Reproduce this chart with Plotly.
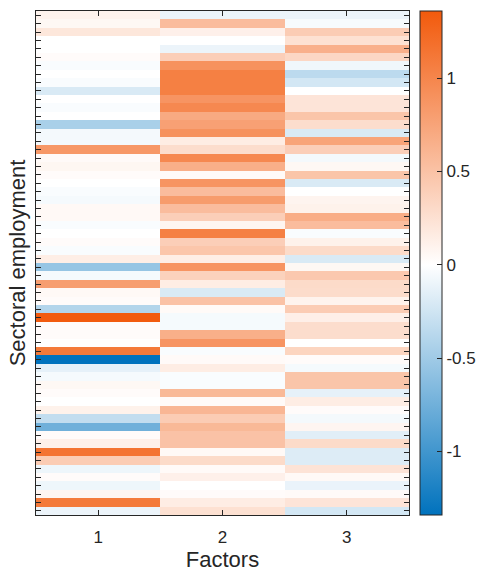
import plotly.graph_objects as go

# Factor loadings of each sector's employment on three factors (rows top to bottom)
factor_1 = [0.10, 0.06, 0.20, 0.00, 0.00, 0.03, -0.03, 0.00, -0.03, -0.20,
            0.00, -0.03, 0.00, -0.45, -0.06, -0.06, 0.85, 0.04, 0.07, 0.03,
            0.00, -0.03, -0.05, 0.05, 0.05, -0.03, 0.00, 0.03, -0.03, 0.14,
            -0.55, -0.05, 0.80, 0.05, 0.03, -0.40, 1.35, 0.03, 0.03, 0.00,
            1.10, -1.34, -0.13, -0.05, 0.06, 0.03, 0.00, 0.11, -0.32, -0.75,
            0.03, 0.12, 1.15, 0.42, -0.09, 0.03, -0.09, 0.08, 1.10, -0.10]
factor_2 = [-0.10, 0.55, 0.12, 0.00, -0.10, 0.40, 0.90, 1.05, 1.05, 1.05,
            0.88, 0.98, 0.70, 0.78, 0.90, 0.15, 0.28, 0.98, 0.66, 0.04,
            0.88, 0.55, 0.82, 0.55, 0.40, 0.08, 1.05, 0.40, 0.47, 0.14,
            0.88, 0.37, 0.15, -0.20, 0.50, 0.04, -0.05, -0.05, 0.66, 0.88,
            -0.03, 0.04, 0.15, -0.03, -0.03, 0.58, 0.04, 0.60, 0.42, 0.58,
            0.50, 0.50, 0.05, 0.30, 0.04, 0.12, 0.00, 0.03, 0.15, 0.25]
factor_3 = [-0.10, -0.04, 0.42, 0.25, 0.65, 0.33, -0.08, -0.35, -0.23, 0.00,
            0.22, 0.22, 0.48, 0.28, -0.20, 0.75, 0.40, -0.06, 0.06, 0.48,
            -0.20, 0.00, 0.09, 0.11, 0.68, 0.55, -0.03, 0.11, 0.30, -0.20,
            0.06, 0.45, 0.30, 0.29, 0.10, 0.42, 0.13, 0.28, 0.28, 0.00,
            0.35, 0.03, -0.05, 0.48, 0.48, -0.13, 0.15, 0.03, -0.06, 0.08,
            -0.16, 0.30, -0.18, -0.18, 0.23, 0.05, -0.11, 0.04, 0.22, -0.23]
factor_labels = ["1", "2", "3"]
colorbar_ticks = [-1, -0.5, 0, 0.5, 1]

n_rows = len(factor_1)
rows = list(range(1, n_rows + 1))
z = [[a, b, c] for a, b, c in zip(factor_1, factor_2, factor_3)]

zmin, zmax = -1.34, 1.36
mid = (0 - zmin) / (zmax - zmin)
colorscale = [
    [0.0, "rgb(0,114,189)"],
    [mid, "rgb(255,255,255)"],
    [1.0, "rgb(242,90,12)"],
]

ink = "#262626"
font = "Liberation Sans, Arial, Helvetica, sans-serif"

fig = go.Figure(go.Heatmap(
    x=[1, 2, 3], y=rows, z=z,
    zmin=zmin, zmax=zmax, colorscale=colorscale,
    colorbar=dict(
        x=1.0295, xanchor="left", xpad=0,
        y=0.5, yanchor="middle", len=1.0, lenmode="fraction",
        thickness=22, ypad=0,
        outlinecolor=ink, outlinewidth=1,
        tickmode="array", tickvals=colorbar_ticks,
        ticktext=["-1", "-0.5", "0", "0.5", "1"],
        ticks="inside", ticklen=5, tickcolor=ink,
        ticklabelposition="outside",
        tickfont=dict(family=font, size=17, color=ink),
    ),
))

fig.update_layout(
    width=481, height=576,
    margin=dict(l=36, r=72, t=11, b=61, autoexpand=False),
    paper_bgcolor="white", plot_bgcolor="white",
    font=dict(family=font, color=ink),
)
fig.update_xaxes(
    range=[0.5, 3.5], tickmode="array", tickvals=[1, 2, 3], ticktext=factor_labels,
    ticks="inside", ticklen=5, tickcolor=ink, mirror="ticks",
    showline=True, linecolor=ink, linewidth=1, showgrid=False, zeroline=False,
    tickfont=dict(family=font, size=17, color=ink), ticklabelstandoff=7,
    title=dict(text="Factors", font=dict(family=font, size=22, color=ink), standoff=3),
    automargin=False,
)
fig.update_yaxes(
    range=[n_rows + 0.5, 0.5], tickmode="array", tickvals=rows,
    showticklabels=False,
    ticks="inside", ticklen=5, tickcolor=ink, mirror="ticks",
    showline=True, linecolor=ink, linewidth=1, showgrid=False, zeroline=False,
    title=dict(text="Sectoral employment", font=dict(family=font, size=22, color=ink), standoff=3),
    automargin=False,
)

fig.write_html("out.html")
